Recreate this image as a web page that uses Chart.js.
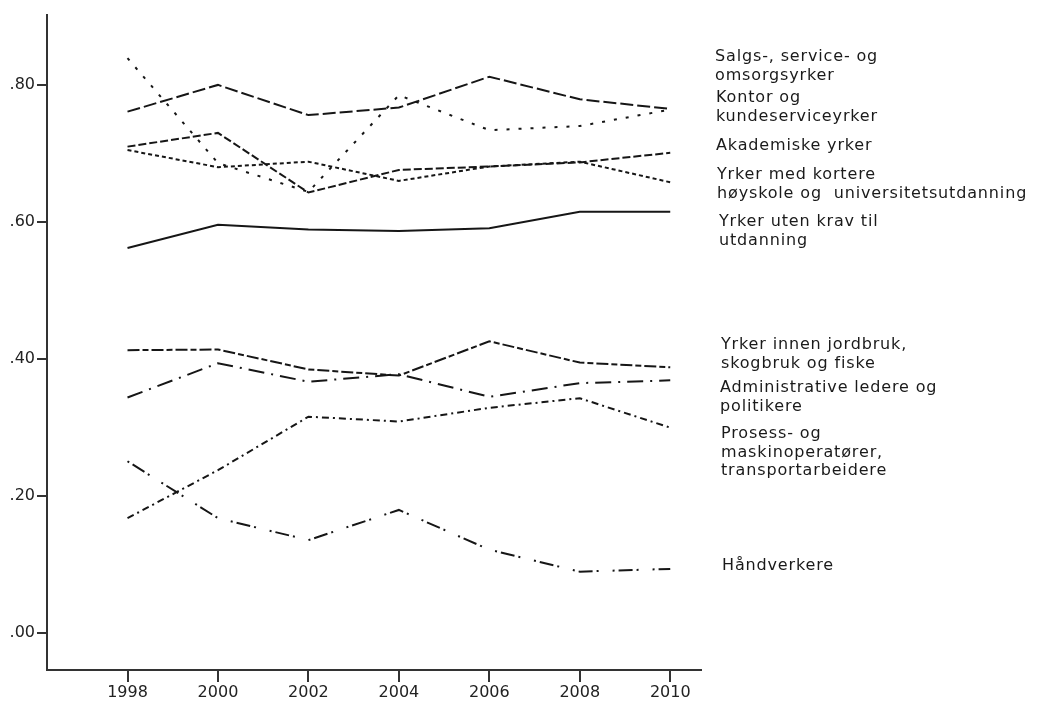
<!DOCTYPE html>
<html>
<head>
<meta charset="utf-8">
<script src="https://cdn.jsdelivr.net/npm/chart.js@4"></script>
<style>
  html, body { margin: 0; padding: 0; background: #fff; }
  canvas { display: block; }
</style>
</head>
<body>
<canvas id="c" width="1039" height="704"></canvas>
<script>
// ---- data ----
const years = [1998, 2000, 2002, 2004, 2006, 2008, 2010];
const xTicks = [1998, 2000, 2002, 2004, 2006, 2008, 2010];
const yTicks = [0, 0.2, 0.4, 0.6, 0.8];

const salgs        = [0.839, 0.686, 0.644, 0.785, 0.734, 0.740, 0.764];
const kontor       = [0.761, 0.800, 0.756, 0.767, 0.812, 0.779, 0.765];
const akademiske   = [0.710, 0.730, 0.643, 0.676, 0.681, 0.687, 0.701];
const kortere      = [0.705, 0.680, 0.688, 0.660, 0.681, 0.688, 0.658];
const utenKrav     = [0.562, 0.596, 0.589, 0.587, 0.591, 0.615, 0.615];
const jordbruk     = [0.413, 0.414, 0.385, 0.376, 0.426, 0.395, 0.388];
const administrative = [0.344, 0.394, 0.367, 0.378, 0.345, 0.365, 0.369];
const prosess      = [0.168, 0.238, 0.316, 0.309, 0.329, 0.343, 0.300];
const handverkere  = [0.251, 0.168, 0.136, 0.180, 0.122, 0.090, 0.094];

const seriesLabels = [
  ["Salgs-, service- og", "omsorgsyrker"],
  ["Kontor og", "kundeserviceyrker"],
  ["Akademiske yrker"],
  ["Yrker med kortere", "høyskole og  universitetsutdanning"],
  ["Yrker uten krav til", "utdanning"],
  ["Yrker innen jordbruk,", "skogbruk og fiske"],
  ["Administrative ledere og", "politikere"],
  ["Prosess- og", "maskinoperatører,", "transportarbeidere"],
  ["Håndverkere"]
];
const seriesValues = [salgs, kontor, akademiske, kortere, utenKrav, jordbruk, administrative, prosess, handverkere];

// ---- styles (kept separate from data) ----
const dashes = [
  [3, 9],            // dotted
  [13, 4],           // long dash
  [8, 3],            // medium dash
  [4, 3],            // short dash
  [],                // solid
  [12, 3, 6, 3],     // long dash / short dash
  [16, 7, 2, 7],     // dash-dot
  [7, 4, 2, 4],      // dash-dot short
  [2, 4, 14, 4, 2, 14] // dot-dash-dot
];
// label text positions (pixels): [x, y of first line centre]
const labelPos = [
  [715, 57], [716, 98], [716, 146], [717, 175], [719, 222],
  [721, 345], [720, 388], [721, 434], [722, 566]
];
const labelLineH = 18.5;

const labelPlugin = {
  id: 'rightLabels',
  afterDraw(chart) {
    const ctx = chart.ctx;
    ctx.save();
    ctx.fillStyle = '#1a1a1a';
    ctx.font = '16px "DejaVu Sans"';
    try { ctx.letterSpacing = '0.85px'; } catch (e) {}
    ctx.textBaseline = 'middle';
    ctx.textAlign = 'left';
    seriesLabels.forEach((lines, i) => {
      const [x, y] = labelPos[i];
      lines.forEach((t, j) => ctx.fillText(t, x, y + j * labelLineH));
    });
    ctx.restore();
  }
};

const datasets = seriesValues.map((vals, i) => ({
  label: seriesLabels[i].join(' '),
  data: years.map((yr, k) => ({ x: yr, y: vals[k] })),
  borderColor: '#161616',
  borderWidth: 2,
  borderDash: dashes[i],
  pointRadius: 0,
  fill: false,
  tension: 0
}));

const axisColor = '#333';
new Chart(document.getElementById('c'), {
  type: 'line',
  data: { datasets },
  plugins: [labelPlugin],
  options: {
    responsive: false,
    animation: false,
    layout: { padding: { top: 15, right: 338, left: 0, bottom: 0 } },
    plugins: { legend: { display: false }, tooltip: { enabled: false } },
    scales: {
      x: {
        type: 'linear',
        min: 1996.22,
        max: 2010.68,
        afterBuildTicks: s => { s.ticks = xTicks.map(v => ({ value: v })); },
        afterFit: s => { s.height = 34; },
        ticks: {
          callback: v => String(v),
          font: { family: 'DejaVu Sans', size: 16 },
          color: '#222',
          padding: 1,
          maxRotation: 0,
          autoSkip: false
        },
        grid: { drawOnChartArea: false, drawTicks: true, tickLength: 12, color: axisColor, lineWidth: 2 },
        border: { display: true, color: axisColor, width: 2 }
      },
      y: {
        type: 'linear',
        min: -0.0535,
        max: 0.902,
        afterBuildTicks: s => { s.ticks = yTicks.map(v => ({ value: v })); },
        afterFit: s => { s.width = 47; },
        ticks: {
          callback: v => v.toFixed(2).replace(/^0/, ''),
          font: { family: 'DejaVu Sans', size: 16 },
          color: '#222',
          padding: 2,
          autoSkip: false
        },
        grid: { drawOnChartArea: false, drawTicks: true, tickLength: 10, color: axisColor, lineWidth: 2 },
        border: { display: true, color: axisColor, width: 2 }
      }
    }
  }
});
</script>
</body>
</html>
